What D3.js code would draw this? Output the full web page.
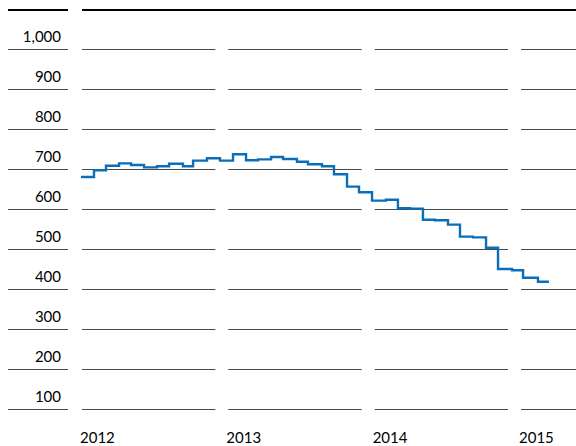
<!DOCTYPE html>
<html>
<head>
<meta charset="utf-8">
<script src="https://cdn.jsdelivr.net/npm/d3@7"></script>
<style>
  body { margin: 0; background: #fff; }
  text { font-family: Lato, "Noto Sans", sans-serif; }
</style>
</head>
<body>
<div id="main"></div>
<script>
const width = 576;
const height = 446;

// tick labels
const years = [2012, 2013, 2014, 2015];
const yTicks = [100, 200, 300, 400, 500, 600, 700, 800, 900, 1000];

// step dates (decimal year) and level from that date on
const dates = [2011.993, 2012.082, 2012.164, 2012.253, 2012.335, 2012.424, 2012.513, 2012.595,
  2012.690, 2012.759, 2012.854, 2012.943, 2013.032, 2013.121, 2013.203, 2013.292, 2013.374,
  2013.469, 2013.544, 2013.640, 2013.722, 2013.811, 2013.893, 2013.982, 2014.077, 2014.159,
  2014.241, 2014.330, 2014.412, 2014.501, 2014.583, 2014.672, 2014.761, 2014.843, 2014.939,
  2015.014, 2015.116, 2015.191];
const values = [680, 697, 708, 714, 710, 704, 707, 713,
  707, 721, 727, 721, 737, 722, 724, 730, 725,
  718, 712, 707, 687, 656, 642, 621, 623, 602,
  601, 573, 572, 561, 531, 529, 503, 450, 447,
  428, 418, 418];

const svg = d3.select("#main")
  .append("svg")
  .attr("width", width)
  .attr("height", height);

const x = d3.scaleLinear().domain([2012, 2015]).range([82, 521]);
const y = d3.scaleLinear().domain([0, 1000]).range([449, 49]);

const yearGap = 13;

// top rule
svg.append("line").attr("x1", 8).attr("x2", 68).attr("y1", 10).attr("y2", 10)
  .attr("stroke", "#000").attr("stroke-width", 2.2);
svg.append("line").attr("x1", 82).attr("x2", width).attr("y1", 10).attr("y2", 10)
  .attr("stroke", "#000").attr("stroke-width", 2.2);

// gridlines, broken at each new year
const grid = svg.append("g");
yTicks.forEach(v => {
  const gy = Math.round(y(v)) + 0.5;
  grid.append("line").attr("x1", 8).attr("x2", 68).attr("y1", gy).attr("y2", gy);
  years.forEach(yr => {
    const x2 = yr === 2015 ? width : x(yr + 1) - yearGap;
    grid.append("line").attr("x1", x(yr)).attr("x2", x2).attr("y1", gy).attr("y2", gy);
  });
});
grid.selectAll("line").attr("stroke", "#4a4a4a").attr("stroke-width", 1);

// y labels
svg.append("g").selectAll("text")
  .data(yTicks)
  .join("text")
  .attr("x", 61)
  .attr("y", d => y(d) - 7)
  .attr("text-anchor", "end")
  .attr("font-size", 15)
  .attr("fill", "#000")
  .text(d => d3.format(",")(d));

// x labels
svg.append("g").selectAll("text")
  .data(years)
  .join("text")
  .attr("x", d => x(d) - 2)
  .attr("y", 443)
  .attr("font-size", 15)
  .attr("fill", "#000")
  .text(d => d);

// the series
const pts = dates.map((d, i) => [d, values[i]]);
const line = d3.line()
  .x(d => x(d[0]))
  .y(d => y(d[1]))
  .curve(d3.curveStepAfter);

svg.append("path")
  .datum(pts)
  .attr("fill", "none")
  .attr("stroke", "#0a6eb8")
  .attr("stroke-width", 2.4)
  .attr("d", line);
</script>
</body>
</html>
